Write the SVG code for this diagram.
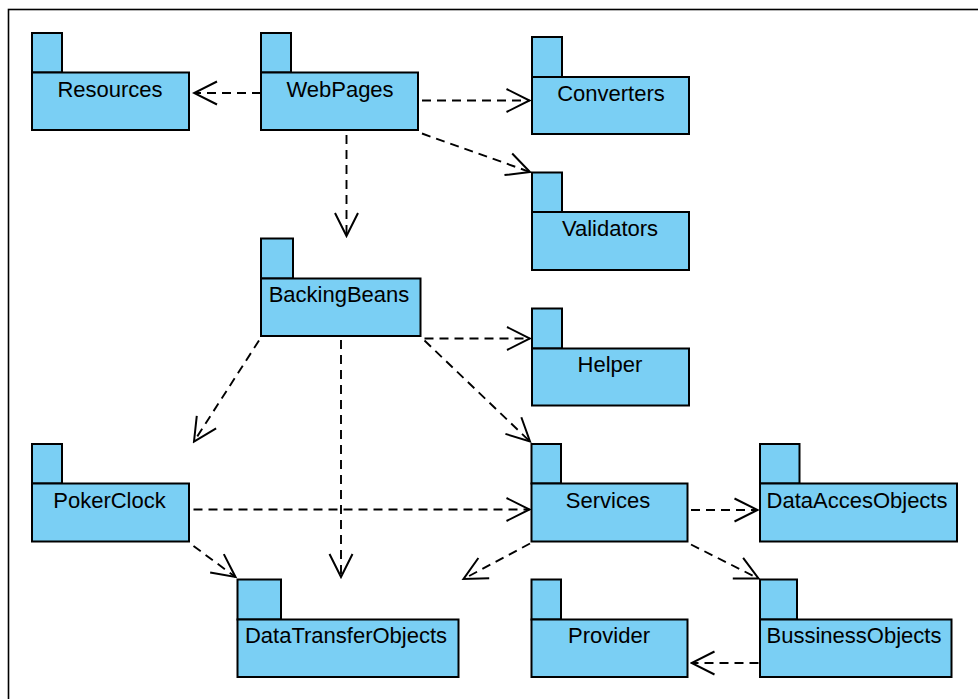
<svg xmlns="http://www.w3.org/2000/svg" width="978" height="699" viewBox="0 0 978 699">
  <style>
    .pkg { fill: #7acff4; stroke: #000; stroke-width: 2; }
    .lbl { font-family: "Liberation Sans", Arial, sans-serif; font-size: 22px; fill: #000; text-anchor: middle; }
    .dep { fill: none; stroke: #000; stroke-width: 1.9; stroke-dasharray: 9 6; }
    .head { fill: none; stroke: #000; stroke-width: 2; stroke-linejoin: miter; }
  </style>
  <defs>
    <marker id="open" viewBox="-25 -13 27 26" refX="0" refY="0" markerWidth="27" markerHeight="26" markerUnits="userSpaceOnUse" orient="auto">
      <path class="head" d="M -23 -11.5 L 0 0 L -23 11.5"/>
    </marker>
  </defs>
  <rect width="978" height="699" fill="#fff"/>
  <!-- diagram frame (open to the right and bottom) -->
  <rect x="8.5" y="9.5" width="1000" height="1000" fill="none" stroke="#000" stroke-width="1.6"/>

  <g id="Resources">
    <rect class="pkg" x="32" y="33" width="30" height="39.5"/>
    <rect class="pkg" x="32" y="72.5" width="157" height="57.5"/>
    <text class="lbl" x="110" y="97">Resources</text>
  </g>
  <g id="WebPages">
    <rect class="pkg" x="261" y="33" width="30" height="39.5"/>
    <rect class="pkg" x="261" y="72.5" width="157" height="57.5"/>
    <text class="lbl" x="340" y="97">WebPages</text>
  </g>
  <g id="Converters">
    <rect class="pkg" x="532" y="37" width="30" height="40"/>
    <rect class="pkg" x="532" y="77" width="157" height="57"/>
    <text class="lbl" x="611" y="101">Converters</text>
  </g>
  <g id="Validators">
    <rect class="pkg" x="532" y="172.5" width="30" height="39.5"/>
    <rect class="pkg" x="532" y="212" width="157" height="58"/>
    <text class="lbl" x="610" y="236">Validators</text>
  </g>
  <g id="BackingBeans">
    <rect class="pkg" x="261" y="238.5" width="32" height="40"/>
    <rect class="pkg" x="261" y="278.5" width="159.5" height="57.5"/>
    <text class="lbl" x="339" y="302">BackingBeans</text>
  </g>
  <g id="Helper">
    <rect class="pkg" x="532" y="308.5" width="30" height="40"/>
    <rect class="pkg" x="532" y="348.5" width="157" height="57"/>
    <text class="lbl" x="610" y="372">Helper</text>
  </g>
  <g id="PokerClock">
    <rect class="pkg" x="32" y="444" width="30" height="39.5"/>
    <rect class="pkg" x="32" y="483.5" width="157" height="58"/>
    <text class="lbl" x="109.5" y="507.5">PokerClock</text>
  </g>
  <g id="Services">
    <rect class="pkg" x="531.5" y="444" width="29.5" height="39.5"/>
    <rect class="pkg" x="531.5" y="483.5" width="156" height="58"/>
    <text class="lbl" x="608" y="507.5">Services</text>
  </g>
  <g id="DataAccesObjects">
    <rect class="pkg" x="760" y="444" width="39.5" height="39.5"/>
    <rect class="pkg" x="760" y="483.5" width="197" height="58"/>
    <text class="lbl" x="857" y="507.5">DataAccesObjects</text>
  </g>
  <g id="DataTransferObjects">
    <rect class="pkg" x="237.5" y="579.5" width="43.5" height="40"/>
    <rect class="pkg" x="237.5" y="619.5" width="221" height="57.5"/>
    <text class="lbl" x="346" y="643">DataTransferObjects</text>
  </g>
  <g id="Provider">
    <rect class="pkg" x="531.5" y="579.5" width="29.5" height="40"/>
    <rect class="pkg" x="531.5" y="619.5" width="156" height="57.5"/>
    <text class="lbl" x="609" y="643">Provider</text>
  </g>
  <g id="BussinessObjects">
    <rect class="pkg" x="760" y="579.5" width="37" height="40"/>
    <rect class="pkg" x="760" y="619.5" width="191.5" height="57.5"/>
    <text class="lbl" x="854" y="643">BussinessObjects</text>
  </g>

  <g id="connectors">
    <line class="dep" x1="261" y1="93" x2="194" y2="93" marker-end="url(#open)"/>
    <line class="dep" x1="422" y1="100.5" x2="529.5" y2="100.5" marker-end="url(#open)"/>
    <line class="dep" x1="422" y1="133.5" x2="530" y2="172" marker-end="url(#open)"/>
    <line class="dep" x1="346.5" y1="135" x2="346.5" y2="236" marker-end="url(#open)"/>
    <line class="dep" x1="259" y1="340.5" x2="194" y2="441.5" marker-end="url(#open)"/>
    <line class="dep" x1="341" y1="340" x2="341" y2="577" marker-end="url(#open)"/>
    <line class="dep" x1="424.5" y1="338.5" x2="530" y2="338.5" marker-end="url(#open)"/>
    <line class="dep" x1="424.5" y1="340.5" x2="530" y2="441.5" marker-end="url(#open)"/>
    <line class="dep" x1="193.5" y1="509.5" x2="529.5" y2="509.5" marker-end="url(#open)"/>
    <line class="dep" x1="193.5" y1="546" x2="235.5" y2="577" marker-end="url(#open)"/>
    <line class="dep" x1="530" y1="543.5" x2="463.5" y2="579" marker-end="url(#open)"/>
    <line class="dep" x1="691" y1="510" x2="757.5" y2="510" marker-end="url(#open)"/>
    <line class="dep" x1="691" y1="544.5" x2="758.5" y2="578.5" marker-end="url(#open)"/>
    <line class="dep" x1="758.5" y1="663" x2="691.5" y2="663" marker-end="url(#open)"/>
  </g>
</svg>
